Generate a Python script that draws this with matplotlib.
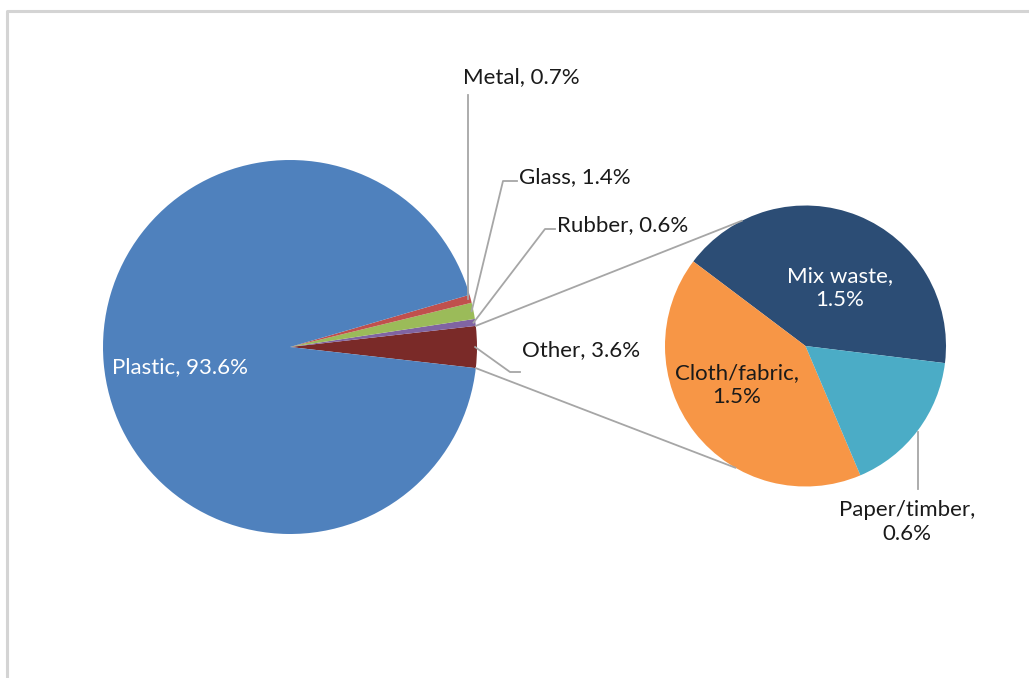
import matplotlib
matplotlib.use("Agg")
import matplotlib.pyplot as plt
import numpy as np

plt.rcParams['font.family'] = ['Lato', 'DejaVu Sans']

# Data
main_labels = ["Other", "Rubber", "Glass", "Metal", "Plastic"]
main_values = [3.6, 0.6, 1.4, 0.7, 93.6]
main_colors = ["#7A2A28", "#8064A2", "#9BBB59", "#C0504D", "#4F81BD"]

sub_labels = ["Mix waste", "Cloth/fabric", "Paper/timber"]
sub_values = [1.5, 1.5, 0.6]
sub_colors = ["#2C4D75", "#F79646", "#4BACC6"]

W, H = 1029, 678
fig = plt.figure(figsize=(W / 100, H / 100), dpi=100)
ax = fig.add_axes([0, 0, 1, 1])

def Y(y):
    return H - y

# main pie
c1 = (290, Y(347))
r1 = 187
other_angle = main_values[0] / sum(main_values) * 360
start1 = -other_angle / 2
ax.pie(main_values, colors=main_colors, startangle=start1, counterclock=True,
       center=c1, radius=r1, wedgeprops=dict(linewidth=0), frame=True)

# secondary pie
c2 = (805.5, Y(346))
r2 = 140.5
ax.pie(sub_values, colors=sub_colors, startangle=-7, counterclock=True,
       center=c2, radius=r2, wedgeprops=dict(linewidth=0), frame=True)
ax.set_xlim(0, W)
ax.set_ylim(0, H)
ax.set_aspect('equal')
ax.axis('off')

# frame
ax.plot([7, 7, W + 5], [-5, Y(11), Y(11)], color="#D4D4D4", lw=2.2, solid_capstyle='butt')

lc = "#A6A6A6"
# connectors between pies
a_top = np.deg2rad(start1 + other_angle)
a_bot = np.deg2rad(start1)
p_top = (c1[0] + r1 * np.cos(a_top), c1[1] + r1 * np.sin(a_top))
p_bot = (c1[0] + r1 * np.cos(a_bot), c1[1] + r1 * np.sin(a_bot))
q_top = (c2[0] + r2 * np.cos(np.deg2rad(117)), c2[1] + r2 * np.sin(np.deg2rad(117)))
q_bot = (c2[0] + r2 * np.cos(np.deg2rad(-120)), c2[1] + r2 * np.sin(np.deg2rad(-120)))
ax.plot([p_top[0], q_top[0]], [p_top[1], q_top[1]], color=lc, lw=1.3)
ax.plot([p_bot[0], q_bot[0]], [p_bot[1], q_bot[1]], color=lc, lw=1.3)

fs = 16
tc = "#1A1A1A"
ls = 1.3

def mid_point(idx, r_frac=1.0):
    cum = np.cumsum([0] + main_values)
    total = sum(main_values)
    a = start1 + (cum[idx] + cum[idx + 1]) / 2 / total * 360
    a = np.deg2rad(a)
    return (c1[0] + r1 * r_frac * np.cos(a), c1[1] + r1 * r_frac * np.sin(a))

def label_text(i):
    return f"{main_labels[i]}, {main_values[i]}%"

# Metal
pm = mid_point(3, 0.99)
ax.plot([468, 468], [pm[1], Y(95)], color=lc, lw=1.3)
ax.text(463, Y(77), label_text(3), fontsize=fs, color=tc, ha='left', va='center')
# Glass
pg = mid_point(2, 0.99)
ax.plot([pg[0], 503, 517], [pg[1], Y(181), Y(181)], color=lc, lw=1.3)
ax.text(519, Y(177), label_text(2), fontsize=fs, color=tc, ha='left', va='center')
# Rubber
pr = mid_point(1, 0.99)
ax.plot([pr[0], 545, 555], [pr[1], Y(229), Y(229)], color=lc, lw=1.3)
ax.text(557, Y(225), label_text(1), fontsize=fs, color=tc, ha='left', va='center')
# Other
po = mid_point(0, 0.99)
ax.plot([po[0], 510, 520], [po[1], Y(372), Y(372)], color=lc, lw=1.3)
ax.text(522, Y(350), label_text(0), fontsize=fs, color=tc, ha='left', va='center')
# Plastic
ax.text(180, Y(367), label_text(4), fontsize=fs, color='white', ha='center', va='center')

# secondary labels
ax.text(840, Y(288), f"{sub_labels[0]},\n{sub_values[0]}%", fontsize=fs, color='white',
        ha='center', va='center', linespacing=ls)
ax.text(737, Y(385), f"{sub_labels[1]},\n{sub_values[1]}%", fontsize=fs, color=tc,
        ha='center', va='center', linespacing=ls)
ax.plot([918, 918], [Y(432), Y(489)], color=lc, lw=1.3)
ax.text(907, Y(522), f"{sub_labels[2]},\n{sub_values[2]}%", fontsize=fs, color=tc,
        ha='center', va='center', linespacing=ls)

fig.savefig("out.png", dpi=100, facecolor='white')
